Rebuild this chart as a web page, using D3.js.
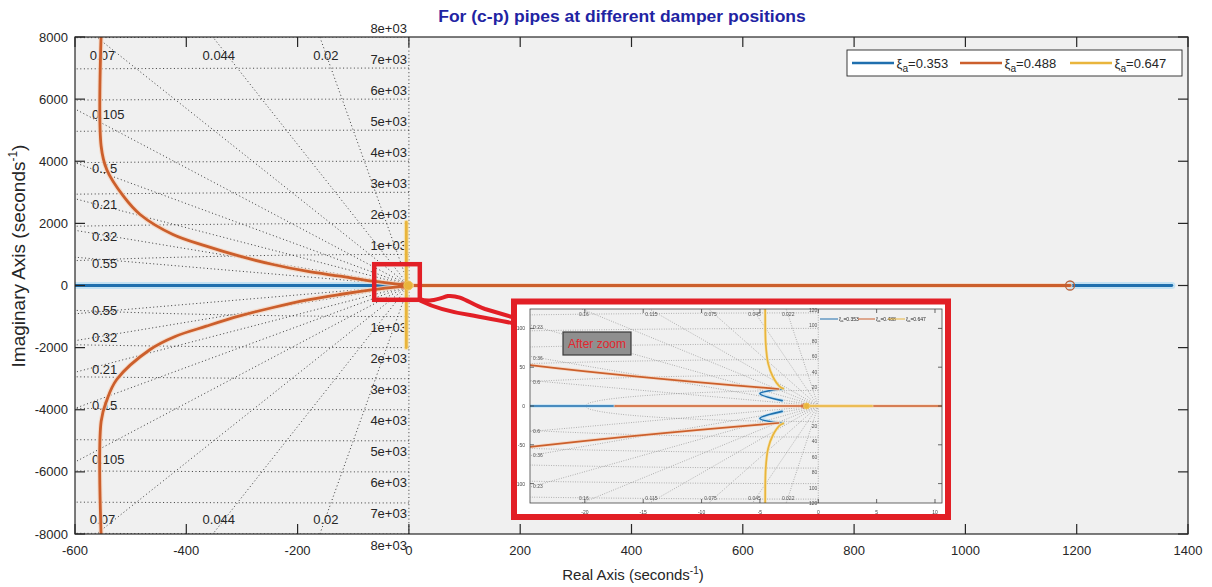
<!DOCTYPE html>
<html>
<head>
<meta charset="utf-8">
<script src="https://cdn.jsdelivr.net/npm/d3@7"></script>
<style>
  body { margin: 0; background: #fff; }
  svg { display: block; font-family: "Liberation Sans", Arial, Helvetica, sans-serif; }
</style>
</head>
<body>
<svg id="chart" width="1212" height="587"></svg>
<script>
// ---- main axes ----
const xTicks = [-600, -400, -200, 0, 200, 400, 600, 800, 1000, 1200, 1400];
const yTicks = [-8000, -6000, -4000, -2000, 0, 2000, 4000, 6000, 8000];
const dampingRatios = [0.02, 0.044, 0.07, 0.105, 0.15, 0.21, 0.32, 0.55];
const naturalFreqs = [1000, 2000, 3000, 4000, 5000, 6000, 7000, 8000];
const freqLabels = ["1e+03", "2e+03", "3e+03", "4e+03", "5e+03", "6e+03", "7e+03", "8e+03"];

// ---- zoomed-in view around the origin ----
const zoomXTicks = [-20, -15, -10, -5, 0, 5, 10];
const zoomYTicks = [-100, -50, 0, 50, 100];
const zoomDamping = [0.022, 0.045, 0.075, 0.115, 0.16, 0.23, 0.36, 0.6];
const zoomFreqs = [20, 40, 60, 80, 100, 120];
const zoomFreqLabels = ["20", "40", "60", "80", "100", "120"];

// ---- series ----
const seriesNames = ["0.353", "0.488", "0.647"];
const seriesColors = ["#1f6fae", "#cc5f2c", "#e9b53c"];
const seriesHalo = ["#bcdff3", "#f5d8c6", "#f6e3ad"];

// locus branches, [real, imaginary]
const blueBranches = [
  [[-650, 0], [-17.4, 0]],
  [[1188, 0], [1371, 0]],
  [[-3.0, 22.5], [-5.0, 16], [-3.1, 7]],
  [[-3.0, -22.5], [-5.0, -16], [-3.1, -7]]
];
const orangeBranches = [
  [[-17.4, 0], [1188, 0]],
  [[-553, 8100], [-553, 4484], [-543, 3734], [-513, 2875], [-483, 2286], [-424, 1642],
   [-364, 1265], [-304, 943], [-244, 676], [-184, 460], [-124, 300], [-64, 138],
   [-24.7, 52.8], [-3.4, 21.9]],
  [[-553, -8100], [-553, -4369], [-543, -3700], [-525, -3026], [-465, -2060], [-420, -1640],
   [-364, -1310], [-304, -980], [-244, -708], [-184, -470], [-124, -290], [-64, -136],
   [-24.7, -52.8], [-3.4, -21.9]]
];
const yellowBranches = [
  [[-4.6, 2040], [-4.55, 125], [-4.5, 80], [-4.3, 55], [-3.9, 38], [-3.3, 25], [-3.0, 22.5]],
  [[-4.6, -2000], [-4.55, -125], [-4.5, -80], [-4.3, -55], [-3.9, -38], [-3.3, -25], [-3.0, -22.5]],
  [[-1.1, 0], [4.6, 0]]
];
const zeroPoints = [[1188, 0]];
const polePoints = [[-1, 0]];

const svg = d3.select("#chart");
svg.append("rect").attr("width", 1212).attr("height", 587).attr("fill", "#fff");
const defs = svg.append("defs");
defs.append("filter").attr("id", "soft").attr("x", "-5%").attr("y", "-5%").attr("width", "110%").attr("height", "110%")
  .append("feGaussianBlur").attr("stdDeviation", 0.45);

// draws one root-locus panel (background, s-plane grid, loci, axes)
function drawPanel(g, cfg) {
  const { x, y, id, s } = cfg;
  const [px0, px1] = x.range();
  const [py0, py1] = y.range(); // bottom, top
  const [dx0] = x.domain();
  const [dy0, dy1] = y.domain();

  defs.append("clipPath").attr("id", id)
    .append("rect").attr("x", px0).attr("y", py1).attr("width", px1 - px0).attr("height", py0 - py1);

  g.append("rect").attr("x", px0).attr("y", py1).attr("width", px1 - px0).attr("height", py0 - py1)
    .attr("fill", "#f0f0f0");

  const grid = g.append("g").attr("clip-path", `url(#${id})`)
    .attr("fill", "none").attr("stroke", cfg.gridColor)
    .attr("stroke-width", cfg.gridW).attr("stroke-dasharray", cfg.gridDash);

  const lineGen = d3.line().x(d => x(d[0])).y(d => y(d[1]));

  // constant-damping rays
  const hits = [];
  cfg.damping.forEach(z => {
    const sn = Math.sqrt(1 - z * z);
    const t = Math.min(-dx0 / z, dy1 / sn);
    [1, -1].forEach(sign => {
      const end = [-z * t, sign * sn * t];
      grid.append("path").attr("d", lineGen([[0, 0], end]));
      hits.push({ z, end, sign, top: (-dx0 / z) > (dy1 / sn) });
    });
  });
  // zero-damping line
  grid.append("path").attr("d", lineGen([[0, dy0], [0, dy1]]));

  // constant natural-frequency arcs
  cfg.freqs.forEach(r => {
    const xs = d3.range(0, 81).map(i => -Math.min(r, -dx0) * i / 80);
    [1, -1].forEach(sign => {
      grid.append("path").attr("d", lineGen(xs.map(v => [v, sign * Math.sqrt(Math.max(0, r * r - v * v))])));
    });
  });

  // grid labels
  const lab = g.append("g").attr("fill", cfg.labelColor).attr("font-size", cfg.gridFont);
  hits.forEach(h => {
    const label = String(h.z);
    if (h.top) {
      lab.append("text").attr("x", x(h.end[0]) + s.topDx)
        .attr("y", h.sign > 0 ? py1 + s.topDy : py0 - s.botDy)
        .attr("text-anchor", "middle").text(label);
    } else {
      lab.append("text").attr("x", px0 + s.leftDx)
        .attr("y", y(h.end[1]) + (h.sign > 0 ? s.leftUp : s.leftDown))
        .attr("dominant-baseline", "central").text(label);
    }
  });
  cfg.freqs.forEach((r, i) => {
    [1, -1].forEach(sign => {
      lab.append("text").attr("x", x(0) - s.freqDx)
        .attr("y", y(sign * r) + (sign > 0 ? -s.freqUp : s.freqDown))
        .attr("text-anchor", "end").attr("dominant-baseline", "central")
        .text(cfg.freqLabels[i]);
    });
  });

  // loci
  const loci = g.append("g").attr("clip-path", `url(#${id})`).attr("fill", "none")
    .attr("stroke-linejoin", "round").attr("stroke-linecap", "round");
  const curve = d3.line().x(d => x(d[0])).y(d => y(d[1])).curve(d3.curveCatmullRom.alpha(0.5));
  [blueBranches, orangeBranches, yellowBranches].forEach((branches, k) => {
    branches.forEach(b => {
      loci.append("path").attr("d", curve(b)).attr("stroke", seriesHalo[k])
        .attr("stroke-width", cfg.haloW[k]).attr("opacity", 0.85);
    });
    branches.forEach(b => {
      loci.append("path").attr("d", curve(b)).attr("stroke", seriesColors[k])
        .attr("stroke-width", cfg.lineW);
    });
  });
  polePoints.forEach(p => {
    loci.append("circle").attr("cx", x(p[0]) - cfg.markR).attr("cy", y(p[1])).attr("r", cfg.markR * 0.9)
      .attr("fill", seriesColors[1]).attr("opacity", 0.55).attr("stroke", "none");
    loci.append("circle").attr("cx", x(p[0])).attr("cy", y(p[1])).attr("r", cfg.markR)
      .attr("fill", seriesColors[2]).attr("stroke", "#f1c65a").attr("stroke-width", 1);
  });
  zeroPoints.forEach(p => {
    loci.append("circle").attr("cx", x(p[0])).attr("cy", y(p[1])).attr("r", cfg.markR)
      .attr("fill", "none").attr("stroke", "#b5623c").attr("stroke-width", cfg.lineW * 0.45);
  });

  // axes box and ticks
  const ax = g.append("g").attr("stroke", cfg.axisColor).attr("stroke-width", cfg.axisW).attr("fill", "none");
  ax.append("rect").attr("x", px0).attr("y", py1).attr("width", px1 - px0).attr("height", py0 - py1);
  const tl = cfg.tickLen;
  cfg.xTicks.forEach(v => {
    ax.append("line").attr("x1", x(v)).attr("x2", x(v)).attr("y1", py0).attr("y2", py0 - tl);
    ax.append("line").attr("x1", x(v)).attr("x2", x(v)).attr("y1", py1).attr("y2", py1 + tl);
  });
  cfg.yTicks.forEach(v => {
    ax.append("line").attr("x1", px0).attr("x2", px0 + tl).attr("y1", y(v)).attr("y2", y(v));
    ax.append("line").attr("x1", px1).attr("x2", px1 - tl).attr("y1", y(v)).attr("y2", y(v));
  });
  const tick = g.append("g").attr("fill", cfg.tickColor).attr("font-size", cfg.tickFont);
  cfg.xTicks.forEach(v => {
    tick.append("text").attr("x", x(v)).attr("y", py0 + s.xLabDy).attr("text-anchor", "middle")
      .attr("dominant-baseline", "central").text(v);
  });
  cfg.yTicks.forEach(v => {
    tick.append("text").attr("x", px0 - s.yLabDx).attr("y", y(v)).attr("text-anchor", "end")
      .attr("dominant-baseline", "central").text(v);
  });
}

// legend entry: coloured line + ξ_a=value
function legendEntry(g, k, x0, yy, len, font) {
  g.append("line").attr("x1", x0).attr("x2", x0 + len).attr("y1", yy).attr("y2", yy)
    .attr("stroke", seriesColors[k]).attr("stroke-width", font * 0.2);
  const t = g.append("text").attr("x", x0 + len + font * 0.2).attr("y", yy + font * 0.38)
    .attr("font-size", font).attr("fill", "#262626");
  t.append("tspan").text("ξ");
  t.append("tspan").attr("font-size", font * 0.78).attr("dy", font * 0.3).text("a");
  t.append("tspan").attr("dy", -font * 0.3).text("=" + seriesNames[k]);
}

// ---- main panel ----
const x = d3.scaleLinear().domain([-600, 1400]).range([75, 1188]);
const y = d3.scaleLinear().domain([-8000, 8000]).range([534, 37]);
drawPanel(svg.append("g"), {
  x, y, id: "mainClip",
  xTicks, yTicks, damping: dampingRatios, freqs: naturalFreqs, freqLabels,
  gridColor: "#3a3a3a", gridW: 1, gridDash: "1 2.6",
  labelColor: "#262626", gridFont: 13, tickFont: 13, tickColor: "#262626",
  axisColor: "#262626", axisW: 1.2, tickLen: 10,
  lineW: 2.8, haloW: [7, 5, 5], markR: 4.5,
  s: { topDx: 6, topDy: 23, botDy: 10, leftDx: 17, leftUp: 6, leftDown: -3,
       freqDx: 2, freqUp: 9, freqDown: 11, xLabDy: 16, yLabDx: 7 }
});

// legend
const leg = svg.append("g");
leg.append("rect").attr("x", 847).attr("y", 50).attr("width", 335).attr("height", 26)
  .attr("fill", "#fff").attr("stroke", "#262626").attr("stroke-width", 0.9);
legendEntry(leg, 0, 852, 63, 42, 13);
legendEntry(leg, 1, 960, 63, 42, 13);
legendEntry(leg, 2, 1070, 63, 42, 13);

// titles
svg.append("text").attr("x", 622).attr("y", 22).attr("text-anchor", "middle")
  .attr("font-size", 17).attr("font-weight", "bold").attr("fill", "#1f24a3")
  .attr("transform", "translate(622,0) scale(1.03,1) translate(-622,0)")
  .text("For (c-p) pipes at different damper positions");

const xl = svg.append("text").attr("x", 633).attr("y", 580).attr("text-anchor", "middle")
  .attr("font-size", 15).attr("fill", "#262626");
xl.append("tspan").text("Real Axis (seconds");
xl.append("tspan").attr("font-size", 10).attr("dy", -6).text("-1");
xl.append("tspan").attr("dy", 6).text(")");

const yl = svg.append("text").attr("transform", "translate(25,256) rotate(-90)").attr("text-anchor", "middle")
  .attr("font-size", 19).attr("fill", "#262626");
yl.append("tspan").text("Imaginary Axis (seconds");
yl.append("tspan").attr("font-size", 12).attr("dy", -8).text("-1");
yl.append("tspan").attr("dy", 8).text(")");

// ---- magnified view ----
const inset = svg.append("g");
inset.append("rect").attr("x", 514).attr("y", 301.5).attr("width", 434).attr("height", 215.5).attr("fill", "#fff");
const zoomG = inset.append("g").attr("filter", "url(#soft)");
const xi = d3.scaleLinear().domain([-24.7, 10.6]).range([530, 942]);
const yi = d3.scaleLinear().domain([-125, 125]).range([503, 309]);
drawPanel(zoomG, {
  x: xi, y: yi, id: "zoomClip",
  xTicks: zoomXTicks, yTicks: zoomYTicks, damping: zoomDamping, freqs: zoomFreqs, freqLabels: zoomFreqLabels,
  gridColor: "#6a6a6a", gridW: 0.6, gridDash: "0.8 1.6",
  labelColor: "#555", gridFont: 5, tickFont: 5, tickColor: "#444",
  axisColor: "#444", axisW: 0.8, tickLen: 4,
  lineW: 1.7, haloW: [3.5, 3.5, 3], markR: 3,
  s: { topDx: 2, topDy: 7, botDy: 3, leftDx: 3, leftUp: 2, leftDown: -1,
       freqDx: 1, freqUp: 3, freqDown: 4, xLabDy: 9, yLabDx: 5 }
});
legendEntry(zoomG, 0, 820, 319, 18, 5);
legendEntry(zoomG, 1, 858, 319, 17, 5);
legendEntry(zoomG, 2, 888, 319, 17, 5);

// "After zoom" tag
inset.append("rect").attr("x", 563).attr("y", 332).attr("width", 68).attr("height", 23)
  .attr("fill", "#8f8f8f").attr("stroke", "#3a3a3a").attr("stroke-width", 1.2);
inset.append("text").attr("x", 597).attr("y", 348).attr("text-anchor", "middle")
  .attr("font-size", 12).attr("fill", "#e3262e").text("After zoom");

// frames and connector
const red = "#e21f26";
inset.append("rect").attr("x", 514).attr("y", 301.5).attr("width", 434).attr("height", 215.5)
  .attr("fill", "none").attr("stroke", red).attr("stroke-width", 6);
svg.append("rect").attr("x", 374.2).attr("y", 264.2).attr("width", 45.6).attr("height", 35.6)
  .attr("fill", "none").attr("stroke", red).attr("stroke-width", 4.5);
const conn = svg.append("g").attr("fill", "none").attr("stroke", red).attr("stroke-width", 4)
  .attr("stroke-linecap", "round").attr("stroke-linejoin", "round");
conn.append("path").attr("d", "M420,299 C430,303 440,298 448,296 C462,295 470,304 485,309 L512,317");
conn.append("path").attr("d", "M421,301 C435,308 450,312 470,315 C485,318 497,320 512,323");
</script>
</body>
</html>
